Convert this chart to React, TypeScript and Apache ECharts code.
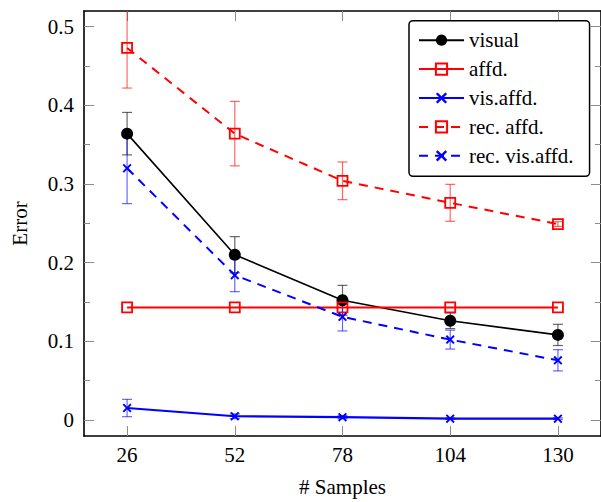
import React, { useEffect, useRef } from "react";
import * as echarts from "echarts";

const samples = [26, 52, 78, 104, 130];
const visual = [0.364, 0.21, 0.152, 0.126, 0.108];
const visualErr = [0.027, 0.023, 0.019, 0.01, 0.0135];
const affd = [0.143, 0.143, 0.143, 0.143, 0.143];
const visAffd = [0.015, 0.0045, 0.0033, 0.0015, 0.0015];
const visAffdErr = [0.011, 0.003, 0.002, 0.001, 0.001];
const recAffd = [0.473, 0.364, 0.304, 0.276, 0.249];
const recAffdErr = [0.051, 0.041, 0.024, 0.0235, 0.003];
const recVis = [0.32, 0.184, 0.131, 0.102, 0.0757];
const recVisErr = [0.045, 0.021, 0.018, 0.012, 0.0135];

const yMajor = [0, 0.1, 0.2, 0.3, 0.4, 0.5];
const yMinor = [0.05, 0.15, 0.25, 0.35, 0.45];

const FONT = "Liberation Serif, serif";
const TICK = "#8c8c8c";
const CROSS =
  "path://M0,1.5 L1.5,0 L5,3.5 L8.5,0 L10,1.5 L6.5,5 L10,8.5 L8.5,10 L5,6.5 L1.5,10 L0,8.5 L3.5,5 Z";

const pts = (v: number[]) => samples.map((s, i) => [s, v[i]]);
const errs = (v: number[], e: number[]) => samples.map((s, i) => [s, v[i] - e[i], v[i] + e[i]]);

function errSeries(data: number[][], color: string) {
  return {
    type: "custom",
    clip: true,
    z: 1,
    silent: true,
    data,
    renderItem: (params: any, api: any) => {
      const x = api.value(0);
      const p1 = api.coord([x, api.value(1)]);
      const p2 = api.coord([x, api.value(2)]);
      const w = 5;
      const style = { stroke: color, lineWidth: 1.2, opacity: 0.6 };
      return {
        type: "group",
        children: [
          { type: "line", shape: { x1: p1[0], y1: p1[1], x2: p2[0], y2: p2[1] }, style },
          { type: "line", shape: { x1: p1[0] - w, y1: p1[1], x2: p1[0] + w, y2: p1[1] }, style },
          { type: "line", shape: { x1: p2[0] - w, y1: p2[1], x2: p2[0] + w, y2: p2[1] }, style },
        ],
      };
    },
  };
}

export default function App() {
  const ref = useRef<HTMLDivElement>(null);
  useEffect(() => {
    if (!ref.current) return;
    const chart = echarts.init(ref.current, null, { renderer: "svg" });
    const xMin = 15.6;
    const xMax = 140.4;
    const yMin = -0.0206;
    const yMax = 0.52;
    const axisLineStyle = { color: "#000", width: 1.6 };
    const tickStyle = { color: TICK, width: 1 };
    const txt = { fontFamily: FONT, fontSize: 21, color: "#000" };
    const yAxisBase = {
      type: "value",
      min: yMin,
      max: yMax,
      splitLine: { show: false },
    };
    chart.setOption({
      animation: false,
      textStyle: { fontFamily: FONT },
      grid: { left: 84, top: 11, width: 518, height: 430.7 },
      legend: {
        orient: "vertical",
        left: 409,
        top: 20.7,
        data: ["visual", "affd.", "vis.affd.", "rec. affd.", "rec. vis.affd."],
        itemWidth: 45,
        itemHeight: 14,
        itemGap: 7.9,
        padding: [9, 16, 10, 9],
        backgroundColor: "#fff",
        borderColor: "#000",
        borderWidth: 1.5,
        borderRadius: 4,
        textStyle: { ...txt },
      },
      xAxis: [
        {
          type: "value",
          min: xMin,
          max: xMax,
          position: "bottom",
          name: "# Samples",
          nameLocation: "middle",
          nameGap: 40,
          nameTextStyle: { ...txt },
          axisLine: { show: true, onZero: false, lineStyle: axisLineStyle },
          axisTick: { show: true, inside: true, length: 10, customValues: samples, lineStyle: tickStyle },
          axisLabel: { show: true, customValues: samples, ...txt, margin: 8 },
          splitLine: { show: false },
        },
        {
          type: "value",
          min: xMin,
          max: xMax,
          position: "top",
          axisLine: { show: true, onZero: false, lineStyle: axisLineStyle },
          axisTick: { show: true, inside: true, length: 10, customValues: samples, lineStyle: tickStyle },
          axisLabel: { show: false },
          splitLine: { show: false },
        },
      ],
      yAxis: [
        {
          ...yAxisBase,
          position: "left",
          name: "Error",
          nameLocation: "middle",
          nameGap: 54,
          nameRotate: 90,
          nameTextStyle: { ...txt },
          axisLine: { show: true, onZero: false, lineStyle: axisLineStyle },
          axisTick: { show: true, inside: true, length: 10, customValues: yMajor, lineStyle: tickStyle },
          axisLabel: {
            show: true,
            customValues: yMajor,
            ...txt,
            margin: 10,
            formatter: (v: number) => String(Number(v.toFixed(2))),
          },
        },
        {
          ...yAxisBase,
          position: "left",
          axisLine: { show: false, onZero: false },
          axisTick: { show: true, inside: true, length: 6, customValues: yMinor, lineStyle: tickStyle },
          axisLabel: { show: false },
        },
        {
          ...yAxisBase,
          position: "right",
          axisLine: { show: true, onZero: false, lineStyle: axisLineStyle },
          axisTick: { show: true, inside: true, length: 10, customValues: yMajor, lineStyle: tickStyle },
          axisLabel: { show: false },
        },
        {
          ...yAxisBase,
          position: "right",
          axisLine: { show: false, onZero: false },
          axisTick: { show: true, inside: true, length: 6, customValues: yMinor, lineStyle: tickStyle },
          axisLabel: { show: false },
        },
      ],
      series: [
        errSeries(errs(visual, visualErr), "#000"),
        errSeries(errs(visAffd, visAffdErr), "#0000ff"),
        errSeries(errs(recAffd, recAffdErr), "#ff0000"),
        errSeries(errs(recVis, recVisErr), "#0000ff"),
        {
          name: "visual",
          type: "line",
          data: pts(visual),
          symbol: "circle",
          symbolSize: 12,
          z: 3,
          itemStyle: { color: "#000" },
          lineStyle: { color: "#000", width: 1.6 },
        },
        {
          name: "affd.",
          type: "line",
          data: pts(affd),
          symbol: "rect",
          symbolSize: 10,
          z: 3,
          itemStyle: { color: "rgba(0,0,0,0)", borderColor: "#ff0000", borderWidth: 1.8 },
          lineStyle: { color: "#ff0000", width: 2 },
        },
        {
          name: "vis.affd.",
          type: "line",
          data: pts(visAffd),
          symbol: CROSS,
          symbolSize: 9,
          z: 3,
          itemStyle: { color: "#0000ff" },
          lineStyle: { color: "#0000ff", width: 2.2 },
        },
        {
          name: "rec. affd.",
          type: "line",
          data: pts(recAffd),
          symbol: "rect",
          symbolSize: 10,
          z: 3,
          itemStyle: { color: "rgba(0,0,0,0)", borderColor: "#ff0000", borderWidth: 1.8 },
          lineStyle: { color: "#ff0000", width: 2, type: [9, 7] },
        },
        {
          name: "rec. vis.affd.",
          type: "line",
          data: pts(recVis),
          symbol: CROSS,
          symbolSize: 9,
          z: 3,
          itemStyle: { color: "#0000ff" },
          lineStyle: { color: "#0000ff", width: 2, type: [9, 7] },
        },
      ],
    });
    return () => chart.dispose();
  }, []);
  return (
    <div
      ref={ref}
      style={{ position: "fixed", left: 0, top: 0, width: 601, height: 502, background: "#fff" }}
    />
  );
}
